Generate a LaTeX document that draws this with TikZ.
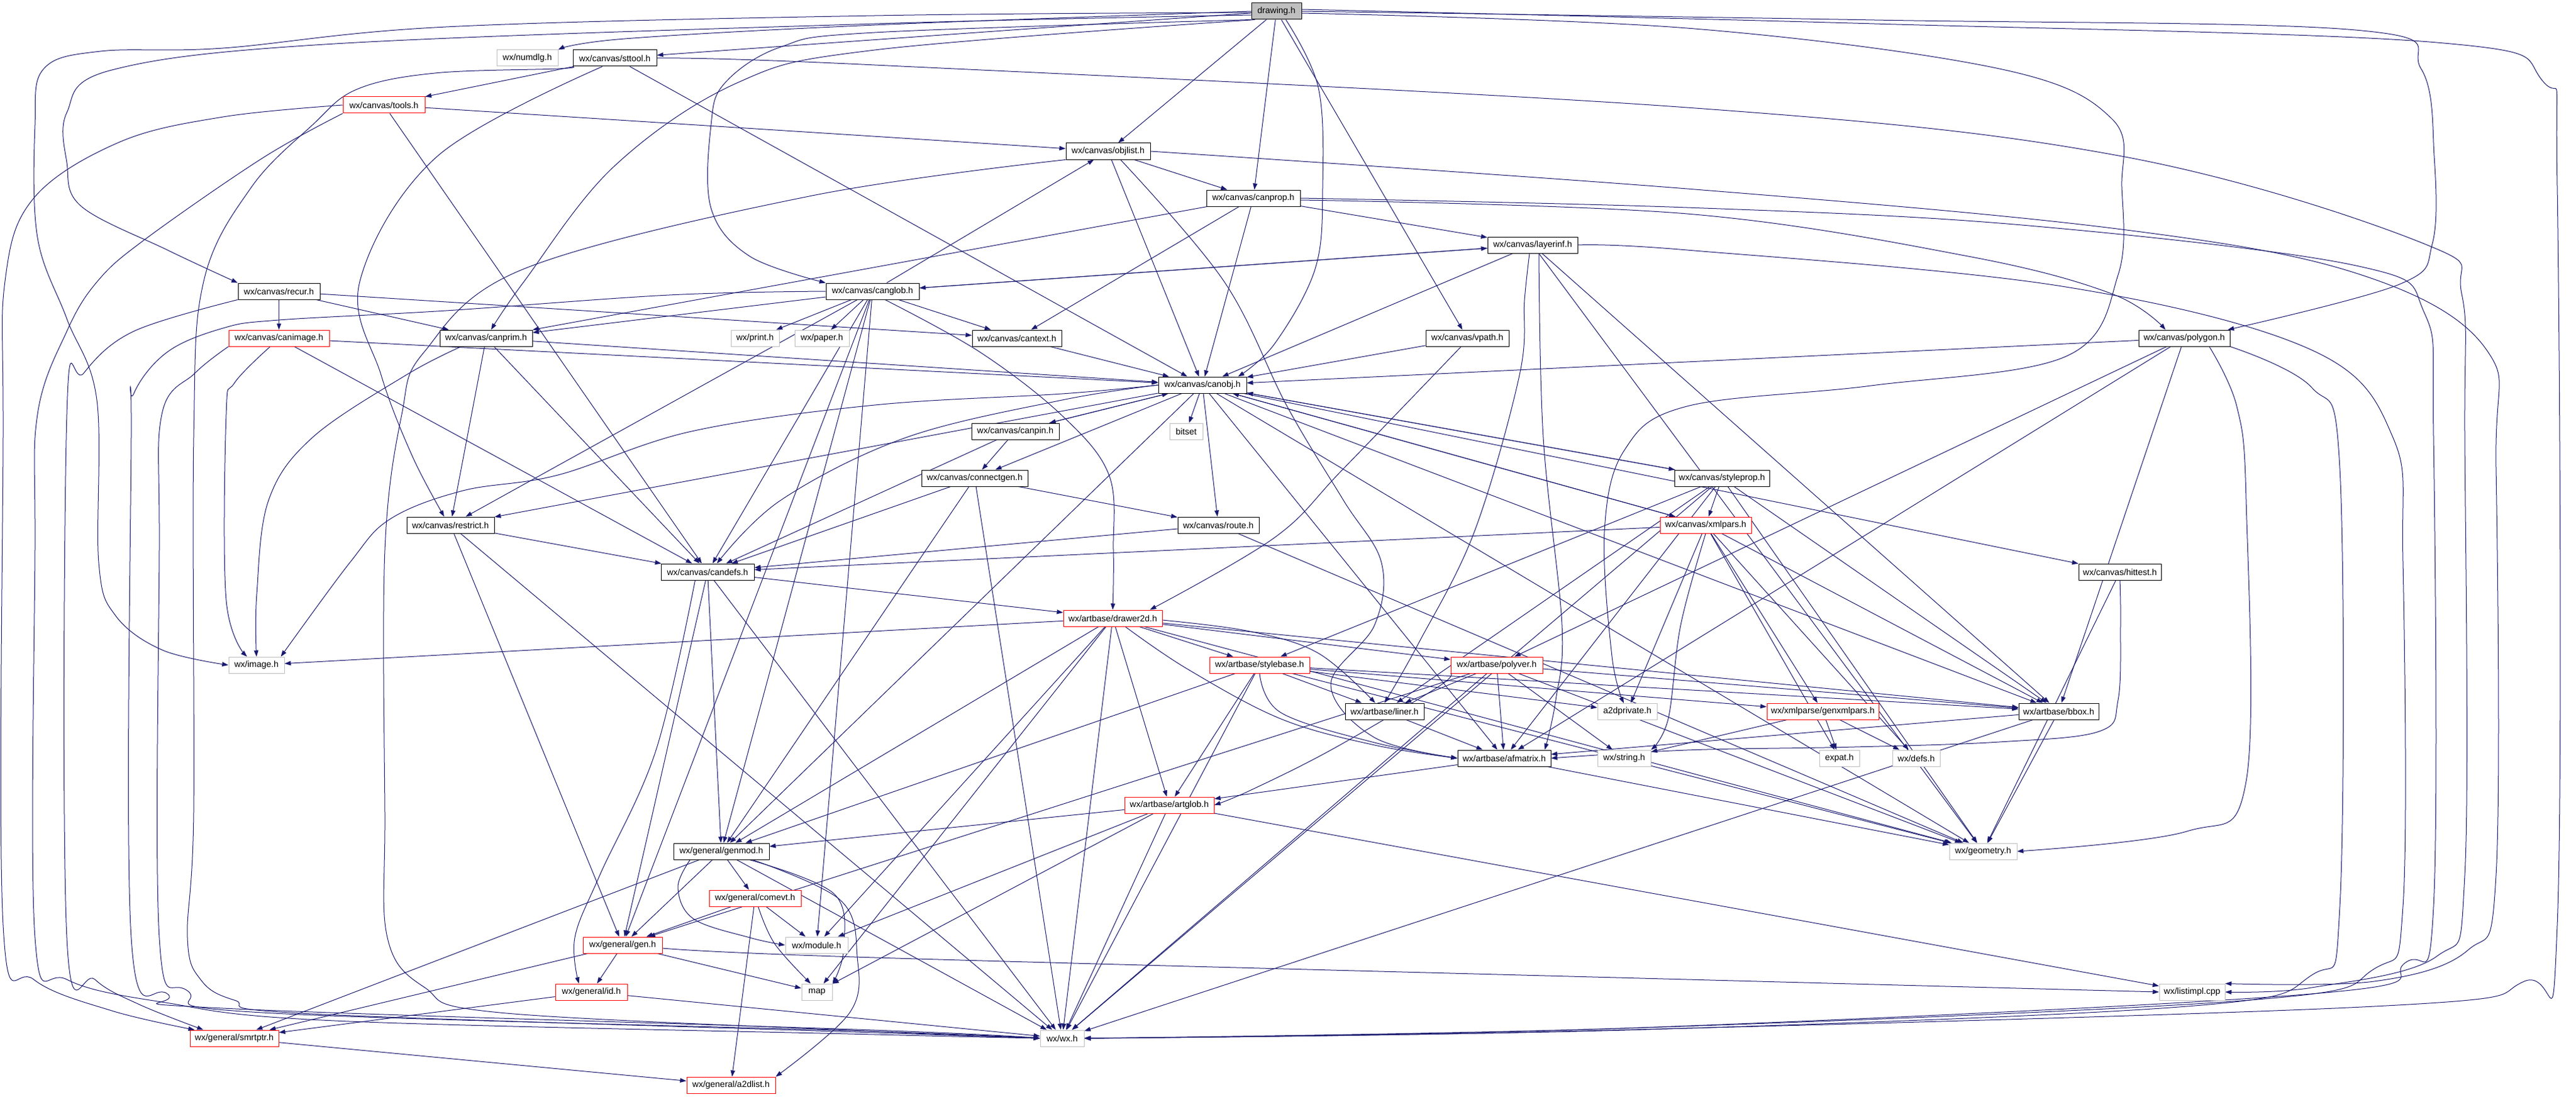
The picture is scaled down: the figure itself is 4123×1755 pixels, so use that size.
\documentclass[tikz,border=0pt]{standalone}
\usepackage{fontspec}
\setmainfont{Liberation Sans}
\usetikzlibrary{arrows.meta}
\pgfdeclarelayer{bg}
\pgfsetlayers{bg,main}
\definecolor{edgec}{HTML}{191970}
\definecolor{extgray}{HTML}{BFBFBF}
\definecolor{redb}{HTML}{FF0000}
\begin{document}
\begin{tikzpicture}[x=1pt,y=-1pt,
  nb/.style={draw=black, fill=white, line width=1pt, rectangle, inner sep=0pt, minimum height=26pt, font=\fontsize{14}{16}\selectfont},
  nr/.style={nb, draw=redb},
  ng/.style={nb, draw=extgray},
  edge/.style={draw=edgec, line width=1pt, -{Triangle[length=10pt,width=7pt]}},
  rt/.style={edge, smooth, tension=0.6}]
\useasboundingbox (0,0) rectangle (4123,1755);
% ---------------- nodes ----------------
\node[nb,fill=extgray,minimum width=80pt] (drawing) at (2043,18) {drawing.h};
\node[ng,minimum width=98pt] (numdlg) at (844,93) {wx/numdlg.h};
\node[nb,minimum width=134pt] (sttool) at (984,93) {wx/canvas/sttool.h};
\node[nr,minimum width=131pt] (tools) at (614.5,168) {wx/canvas/tools.h};
\node[nb,minimum width=135pt] (objlist) at (1773.5,242) {wx/canvas/objlist.h};
\node[nb,minimum width=150pt] (canprop) at (2006,317) {wx/canvas/canprop.h};
\node[nb,minimum width=144pt] (layerinf) at (2453,392) {wx/canvas/layerinf.h};
\node[nb,minimum width=131pt] (recur) at (446.5,466) {wx/canvas/recur.h};
\node[nb,minimum width=149pt] (canglob) at (1396.5,466) {wx/canvas/canglob.h};
\node[nr,minimum width=161pt] (canimage) at (446.5,541) {wx/canvas/canimage.h};
\node[nb,minimum width=148pt] (canprim) at (778,541) {wx/canvas/canprim.h};
\node[ng,minimum width=77pt] (print) at (1208.5,541) {wx/print.h};
\node[ng,minimum width=87pt] (paper) at (1315.5,541) {wx/paper.h};
\node[nb,minimum width=143pt] (cantext) at (1627.5,541) {wx/canvas/cantext.h};
\node[nb,minimum width=133pt] (vpath) at (2348.5,541) {wx/canvas/vpath.h};
\node[nb,minimum width=146pt] (polygon) at (3496,541) {wx/canvas/polygon.h};
\node[nb,minimum width=141pt] (canobj) at (1924.5,616) {wx/canvas/canobj.h};
\node[nb,minimum width=140pt] (canpin) at (1625,690) {wx/canvas/canpin.h};
\node[ng,minimum width=53pt] (bitset) at (1898.5,690) {bitset};
\node[nb,minimum width=170pt] (connectgen) at (1560,765) {wx/canvas/connectgen.h};
\node[nb,minimum width=152pt] (styleprop) at (2756,765) {wx/canvas/styleprop.h};
\node[nb,minimum width=140pt] (restrict) at (721,840) {wx/canvas/restrict.h};
\node[nb,minimum width=130pt] (route) at (1950,840) {wx/canvas/route.h};
\node[nr,minimum width=146pt] (xmlpars) at (2730,840) {wx/canvas/xmlpars.h};
\node[nb,minimum width=149pt] (candefs) at (1132.5,915) {wx/canvas/candefs.h};
\node[nb,minimum width=132pt] (hittest) at (3393,915) {wx/canvas/hittest.h};
\node[nr,minimum width=158pt] (drawer2d) at (1781,989) {wx/artbase/drawer2d.h};
\node[ng,minimum width=89pt] (image) at (410.5,1064) {wx/image.h};
\node[nr,minimum width=160pt] (stylebase) at (2016,1064) {wx/artbase/stylebase.h};
\node[nr,minimum width=147pt] (polyver) at (2395.5,1064) {wx/artbase/polyver.h};
\node[nb,minimum width=126pt] (liner) at (2216,1138) {wx/artbase/liner.h};
\node[ng,minimum width=95pt] (a2dprivate) at (2604.5,1138) {a2dprivate.h};
\node[nr,minimum width=179pt] (genxmlpars) at (2917.5,1138) {wx/xmlparse/genxmlpars.h};
\node[nb,minimum width=128pt] (bbox) at (3295,1138) {wx/artbase/bbox.h};
\node[nb,minimum width=149pt] (afmatrix) at (2407.5,1213) {wx/artbase/afmatrix.h};
\node[ng,minimum width=85pt] (string) at (2599.5,1213) {wx/string.h};
\node[ng,minimum width=64pt] (expat) at (2944,1213) {expat.h};
\node[ng,minimum width=76pt] (defs) at (3067,1213) {wx/defs.h};
\node[nr,minimum width=143pt] (artglob) at (1871.5,1288) {wx/artbase/artglob.h};
\node[nb,minimum width=153pt] (genmod) at (1154.5,1362) {wx/general/genmod.h};
\node[ng,minimum width=108pt] (geometry) at (3174,1362) {wx/geometry.h};
\node[nr,minimum width=147pt] (comevt) at (1208.5,1437) {wx/general/comevt.h};
\node[nr,minimum width=127pt] (gen) at (996.5,1512) {wx/general/gen.h};
\node[ng,minimum width=100pt] (module) at (1307,1512) {wx/module.h};
\node[nr,minimum width=115pt] (id) at (946.5,1587) {wx/general/id.h};
\node[ng,minimum width=49pt] (map) at (1307.5,1587) {map};
\node[ng,minimum width=105pt] (listimpl) at (3508.5,1587) {wx/listimpl.cpp};
\node[nr,minimum width=142pt] (smrtptr) at (375,1661) {wx/general/smrtptr.h};
\node[ng,minimum width=70pt] (wx) at (1700,1661) {wx/wx.h};
\node[nr,minimum width=142pt] (a2dlist) at (1170,1736) {wx/general/a2dlist.h};
% ---------------- edges ----------------
\begin{pgfonlayer}{bg}
\foreach \s/\t in {drawing/sttool, drawing/objlist, drawing/canprop, drawing/vpath,
  sttool/tools, sttool/canobj,
  tools/objlist, tools/candefs,
  objlist/canprop, objlist/canobj,
  canprop/layerinf, canprop/canobj, canprop/cantext, canprop/canprim,
  layerinf/canglob, layerinf/canobj, layerinf/bbox, layerinf/geometry,
  recur/canimage, recur/canprim, recur/cantext,
  canglob/objlist, canglob/layerinf, canglob/canprim, canglob/print, canglob/paper, canglob/cantext,
  canglob/restrict, canglob/candefs, canglob/gen, canglob/module, canglob/genmod,
  canimage/canobj, canimage/candefs,
  canprim/canobj, canprim/restrict, canprim/candefs,
  cantext/canobj, vpath/canobj,
  polygon/canobj, polygon/polyver, polygon/bbox, polygon/afmatrix,
  canobj/canpin, canobj/bitset, canobj/connectgen, canobj/styleprop, canobj/xmlpars, canobj/route,
  canobj/hittest, canobj/restrict, canobj/genmod, canobj/bbox, canobj/afmatrix, canobj/geometry,
  canpin/canobj, canpin/connectgen, canpin/candefs,
  connectgen/route, connectgen/candefs, connectgen/genmod, connectgen/wx,
  styleprop/canobj, styleprop/xmlpars, styleprop/stylebase, styleprop/liner, styleprop/afmatrix,
  styleprop/bbox, styleprop/geometry, styleprop/wx,
  restrict/candefs, restrict/gen, restrict/wx,
  route/candefs, route/geometry,
  xmlpars/canobj, xmlpars/candefs, xmlpars/genxmlpars, xmlpars/a2dprivate, xmlpars/expat, xmlpars/defs, xmlpars/bbox,
  candefs/drawer2d, candefs/genmod, candefs/gen, candefs/wx,
  hittest/geometry,
  drawer2d/image, drawer2d/stylebase, drawer2d/polyver, drawer2d/bbox, drawer2d/artglob,
  drawer2d/genmod, drawer2d/geometry, drawer2d/wx, drawer2d/map, drawer2d/module,
  stylebase/a2dprivate, stylebase/liner, stylebase/genxmlpars, stylebase/bbox, stylebase/artglob,
  stylebase/genmod, stylebase/geometry, stylebase/wx,
  polyver/liner, polyver/afmatrix, polyver/bbox, polyver/string, polyver/gen, polyver/geometry, polyver/wx,
  liner/afmatrix,
  genxmlpars/expat, genxmlpars/defs, genxmlpars/string,
  bbox/afmatrix, bbox/geometry, bbox/wx,
  afmatrix/artglob, afmatrix/geometry,
  artglob/genmod, artglob/module, artglob/map, artglob/wx, artglob/listimpl,
  genmod/comevt, genmod/gen, genmod/smrtptr, genmod/wx,
  comevt/gen, comevt/module, comevt/a2dlist,
  gen/id, gen/smrtptr, gen/map,
  id/smrtptr, id/wx,
  smrtptr/a2dlist}
  \draw[edge] (\s) -- (\t);
% routed connectors
\draw[rt] plot coordinates {(drawing.west) (1400,40) (1000,62) (numdlg.north east)};
\draw[rt] plot coordinates {([yshift=-2pt]drawing.west) (1400,25) (714,43) (357,77) (161,82) (70,110) (56,200) (60,380) (107,510) (155,640) (158,900) (185,985) (260,1040) (image.west)};
\draw[rt] plot coordinates {([yshift=-6pt]drawing.west) (1400,38) (536,70) (179,112) (107,180) (107,260) (130,330) (268,400) (recur.north west)};
\draw[rt] plot coordinates {(drawing.south west) (1400,52) (1250,75) (1160,133) (1138,200) (1138,333) (1200,410) (canglob.north west)};
\draw[rt] plot coordinates {([xshift=6pt]drawing.south west) (1400,80) (1179,133) (982,267) (839,450) ([xshift=8pt]canprim.north)};
\draw[rt] plot coordinates {([xshift=15pt]drawing.south) (2110,140) (2117,300) (2105,430) (2040,550) ([xshift=-14pt]canobj.north east)};
\draw[rt] plot coordinates {(drawing.east) (3000,32) (3770,48) (3875,110) (3896,250) (3893,390) (3840,455) ([xshift=-4pt]polygon.north east)};
\draw[rt] plot coordinates {([yshift=-3pt]drawing.east) (2700,45) (3200,110) (3380,190) (3396,300) (3390,440) (3307,570) (2995,617) (2700,650) (2600,720) (2568,850) (2580,1050) (2599,1125)};
\draw[rt] plot coordinates {([yshift=3pt]drawing.east) (3000,38) (3900,68) (4070,130) (4093,300) (4093,1480) (4040,1570) (3800,1610) (2500,1650) (wx.east)};
\draw[rt] plot coordinates {(sttool.south west) (893,110) (696,117) (571,143) (500,200) (402,300) (326,450) (310,700) (310,1300) (300,1500) (321,1567) (375,1600) (500,1622) (1400,1652) (wx.west)};
\draw[rt] plot coordinates {(sttool.east) (1400,104) (2700,172) (3396,250) (3880,390) (3940,470) (3945,700) (3945,1400) (3900,1530) (3700,1580) (listimpl.east)};
\draw[rt] plot coordinates {([xshift=-20pt]sttool.south) (700,250) (576,450) (610,600) (660,730) ([xshift=-10pt]restrict.north)};
\draw[rt] plot coordinates {(tools.west) (357,187) (192,227) (54,317) (8,450) (5,700) (5,1480) (54,1567) (179,1617) ([xshift=8pt]smrtptr.north west)};
\draw[rt] plot coordinates {(tools.south west) (420,253) (232,383) (156,450) (107,530) (60,663) (56,880) (56,1500) (107,1567) (259,1603) (536,1633) (1400,1655) (wx.west)};
\draw[rt] plot coordinates {(recur.south west) (214,530) (134,597) (107,663) (107,1500) (152,1567) (223,1607) ([xshift=22pt]smrtptr.north west)};
\draw[rt] plot coordinates {(canglob.west) (1071,472) (714,497) (446,512) (357,525) (268,563) (214,630) (210,700) (210,1500) (268,1590) (357,1613) (1400,1648) (wx.west)};
\draw[rt] plot coordinates {(canimage.south west) (312,597) (259,663) (255,880) (255,1500) (300,1585) (420,1620) (1400,1650) (wx.west)};
\draw[rt] plot coordinates {([xshift=-14pt]canimage.south) (375,613) (362,663) (362,960) ([xshift=-15pt]image.north)};
\draw[rt] plot coordinates {([xshift=-40pt]canprim.south) (650,600) (500,700) (430,800) (411,950) (image.north)};
\draw[rt] plot coordinates {(objlist.south west) (1300,313) (839,430) (679,563) (643,663) (616,880) (616,1300) (620,1500) (680,1580) (800,1620) (1400,1650) (wx.west)};
\draw[rt] plot coordinates {(canobj.west) (1700,630) (1400,648) (1107,690) (893,760) (741,785) (625,830) (560,900) ([xshift=-6pt]image.north east)};
\draw[rt] plot coordinates {(canobj.west) (1700,640) (1450,700) (1250,800) ([xshift=15pt]candefs.north)};
\draw[rt] plot coordinates {(canprop.east) (2700,332) (3236,360) (3771,425) (3880,500) (3895,700) (3895,1450) (3850,1540) (3700,1590) (2600,1645) (wx.east)};
\draw[rt] plot coordinates {([yshift=-3pt]canprop.east) (2700,342) (3150,410) (3380,470) ([xshift=-30pt]polygon.north)};
\draw[rt] plot coordinates {(layerinf.east) (2700,400) (3300,458) (3700,560) (3830,700) (3846,900) (3846,1450) (3800,1550) (3600,1600) (2600,1645) (wx.east)};
\draw[rt] plot coordinates {([xshift=-5pt]layerinf.south) (2440,480) (2432,600) (2360,850) (2270,1030) (liner.north)};
\draw[rt] plot coordinates {([xshift=10pt]layerinf.south) (2470,700) (2500,1000) (2490,1120) ([xshift=-10pt]afmatrix.north east)};
\draw[rt] plot coordinates {(objlist.east) (2700,302) (3396,367) (3780,440) (3980,560) (3995,750) (3995,1400) (3950,1520) (3800,1570) (listimpl.north east)};
\draw[rt] plot coordinates {([xshift=20pt]objlist.south) (1959,450) (2060,650) (2150,800) (2211,900) (2200,1000) (2130,1095) (2200,1180) (afmatrix.west)};
\draw[rt] plot coordinates {([xshift=40pt]polygon.south) (3580,650) (3595,800) (3595,1250) (3500,1330) (geometry.east)};
\draw[rt] plot coordinates {(polygon.south east) (3700,620) (3745,750) (3745,1450) (3700,1560) (3500,1610) (2600,1648) (wx.east)};
\draw[rt] plot coordinates {(hittest.south) (3394,1000) (3390,1120) (3360,1170) (3200,1187) (2968,1195) (2700,1200) (afmatrix.east)};
\draw[rt] plot coordinates {([xshift=20pt]canglob.south) (1568,563) (1700,665) (1775,760) (1782,880) (drawer2d.north)};
\draw[rt] plot coordinates {([xshift=-10pt]vpath.south) (2150,750) (2040,860) ([xshift=-20pt]drawer2d.north east)};
\draw[rt] plot coordinates {(xmlpars.south) (2690,1000) (2670,1150) (string.north east)};
\draw[rt] plot coordinates {([xshift=-20pt]candefs.south) (1050,1200) (960,1400) (920,1500) ([xshift=-20pt]id.north)};
\draw[rt] plot coordinates {([yshift=-3pt]drawer2d.east) (2000,1010) (2110,1045) ([xshift=-15pt]liner.north)};
\draw[rt] plot coordinates {([xshift=20pt]drawer2d.south) (1900,1070) (2050,1150) (2200,1192) (afmatrix.west)};
\draw[rt] plot coordinates {(stylebase.south) (2050,1140) (2200,1188) (afmatrix.west)};
\draw[rt] plot coordinates {(polyver.south west) (2300,1100) (2130,1200) (2000,1265) (artglob.east)};
\draw[rt] plot coordinates {([xshift=50pt]genmod.south) (1345,1440) (1372,1530) (1360,1620) (a2dlist.north east)};
\draw[rt] plot coordinates {([xshift=-50pt]genmod.south) (1085,1420) (1110,1470) (1200,1500) (module.west)};
\draw[rt] plot coordinates {([xshift=45pt]genmod.south) (1335,1430) (1350,1520) (map.north east)};
\draw[rt] plot coordinates {([xshift=5pt]comevt.south) (1240,1510) ([xshift=-10pt]map.north)};
\draw[rt] plot coordinates {([yshift=-5pt]gen.east) (1400,1532) (2700,1567) (listimpl.west)};
\end{pgfonlayer}
\end{tikzpicture}
\end{document}
